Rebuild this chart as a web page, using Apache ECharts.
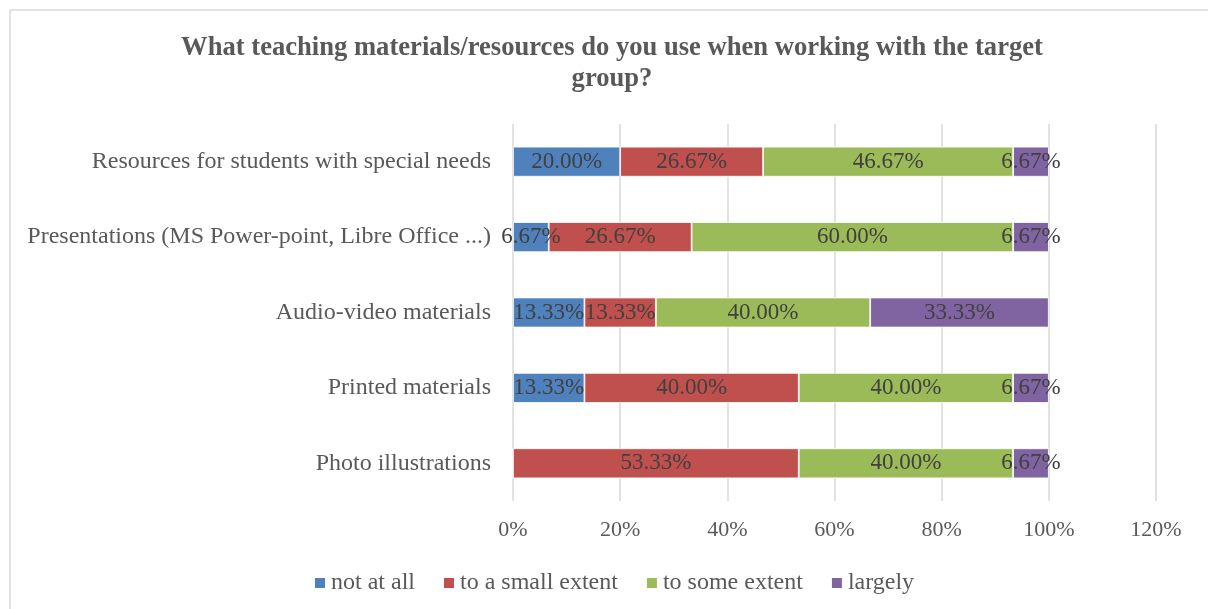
<!DOCTYPE html>
<html>
<head>
<meta charset="utf-8">
<script src="https://cdn.jsdelivr.net/npm/echarts@6/dist/echarts.min.js"></script>
<style>
  html, body { margin: 0; padding: 0; background: #fff; }
  #chart { width: 1208px; height: 609px; }
</style>
</head>
<body>
<div id="chart"></div>
<script>
// Categories listed bottom-to-top (category axis starts at the bottom)
const categories = [
  'Photo illustrations',
  'Printed materials',
  'Audio-video materials',
  'Presentations (MS Power-point, Libre Office ...)',
  'Resources for students with special needs'
];
const seriesNames = ['not at all', 'to a small extent', 'to some extent', 'largely'];
const notAtAll      = [0,     13.33, 13.33, 6.67,  20.00];
const smallExtent   = [53.33, 40.00, 13.33, 26.67, 26.67];
const someExtent    = [40.00, 40.00, 40.00, 60.00, 46.67];
const largely       = [6.67,  6.67,  33.33, 6.67,  6.67];
const xTicks = [0, 20, 40, 60, 80, 100, 120];
const titleLines = ['What teaching materials/resources do you use when working with the target', 'group?'];

const colors = ['#4f81bd', '#c0504d', '#9bbb59', '#8064a2'];
const serif = '"Liberation Serif", "Times New Roman", serif';

const chart = echarts.init(document.getElementById('chart'), null, { renderer: 'canvas' });

const valueSets = [notAtAll, smallExtent, someExtent, largely];

const series = seriesNames.map((name, i) => ({
  name: name,
  type: 'bar',
  stack: 'total',
  barWidth: 30,
  data: valueSets[i],
  itemStyle: { color: colors[i], borderColor: '#ffffff', borderWidth: 0.8 },
  label: {
    show: true,
    position: 'inside',
    fontFamily: serif,
    fontSize: 23,
    color: '#404040',
    formatter: p => (p.value > 0 ? p.value.toFixed(2) + '%' : '')
  },
  emphasis: { disabled: true }
}));

chart.setOption({
  animation: false,
  backgroundColor: '#ffffff',
  color: colors,
  graphic: [
    {
      type: 'rect',
      shape: { x: 10, y: 10, width: 1250, height: 650 },
      style: { fill: 'none', stroke: '#d9d9d9', lineWidth: 1.5 },
      silent: true
    },
    {
      type: 'text',
      x: 612,
      y: 33,
      style: {
        text: titleLines.join('\n'),
        fontFamily: serif,
        fontSize: 26.6,
        fontWeight: 'bold',
        fill: '#595959',
        align: 'center',
        lineHeight: 31
      },
      silent: true
    }
  ],
  grid: { left: 513, right: 52, top: 124, bottom: 108, containLabel: false },
  xAxis: {
    type: 'value',
    min: xTicks[0],
    max: xTicks[xTicks.length - 1],
    interval: 20,
    axisLine: { show: false },
    axisTick: { show: false },
    splitLine: { show: true, lineStyle: { color: '#d9d9d9', width: 1.5 } },
    axisLabel: {
      margin: 18,
      fontFamily: serif,
      fontSize: 22,
      color: '#595959',
      formatter: v => v + '%'
    }
  },
  yAxis: {
    type: 'category',
    data: categories,
    axisLine: { show: false },
    axisTick: { show: false },
    axisLabel: {
      margin: 22,
      fontFamily: serif,
      fontSize: 24,
      color: '#595959'
    }
  },
  legend: {
    data: seriesNames,
    left: 308,
    top: 566,
    icon: 'rect',
    itemWidth: 12,
    itemHeight: 12,
    itemGap: 27,
    textStyle: { fontFamily: serif, fontSize: 24, color: '#595959' },
    selectedMode: false
  },
  series: series
});
</script>
</body>
</html>
